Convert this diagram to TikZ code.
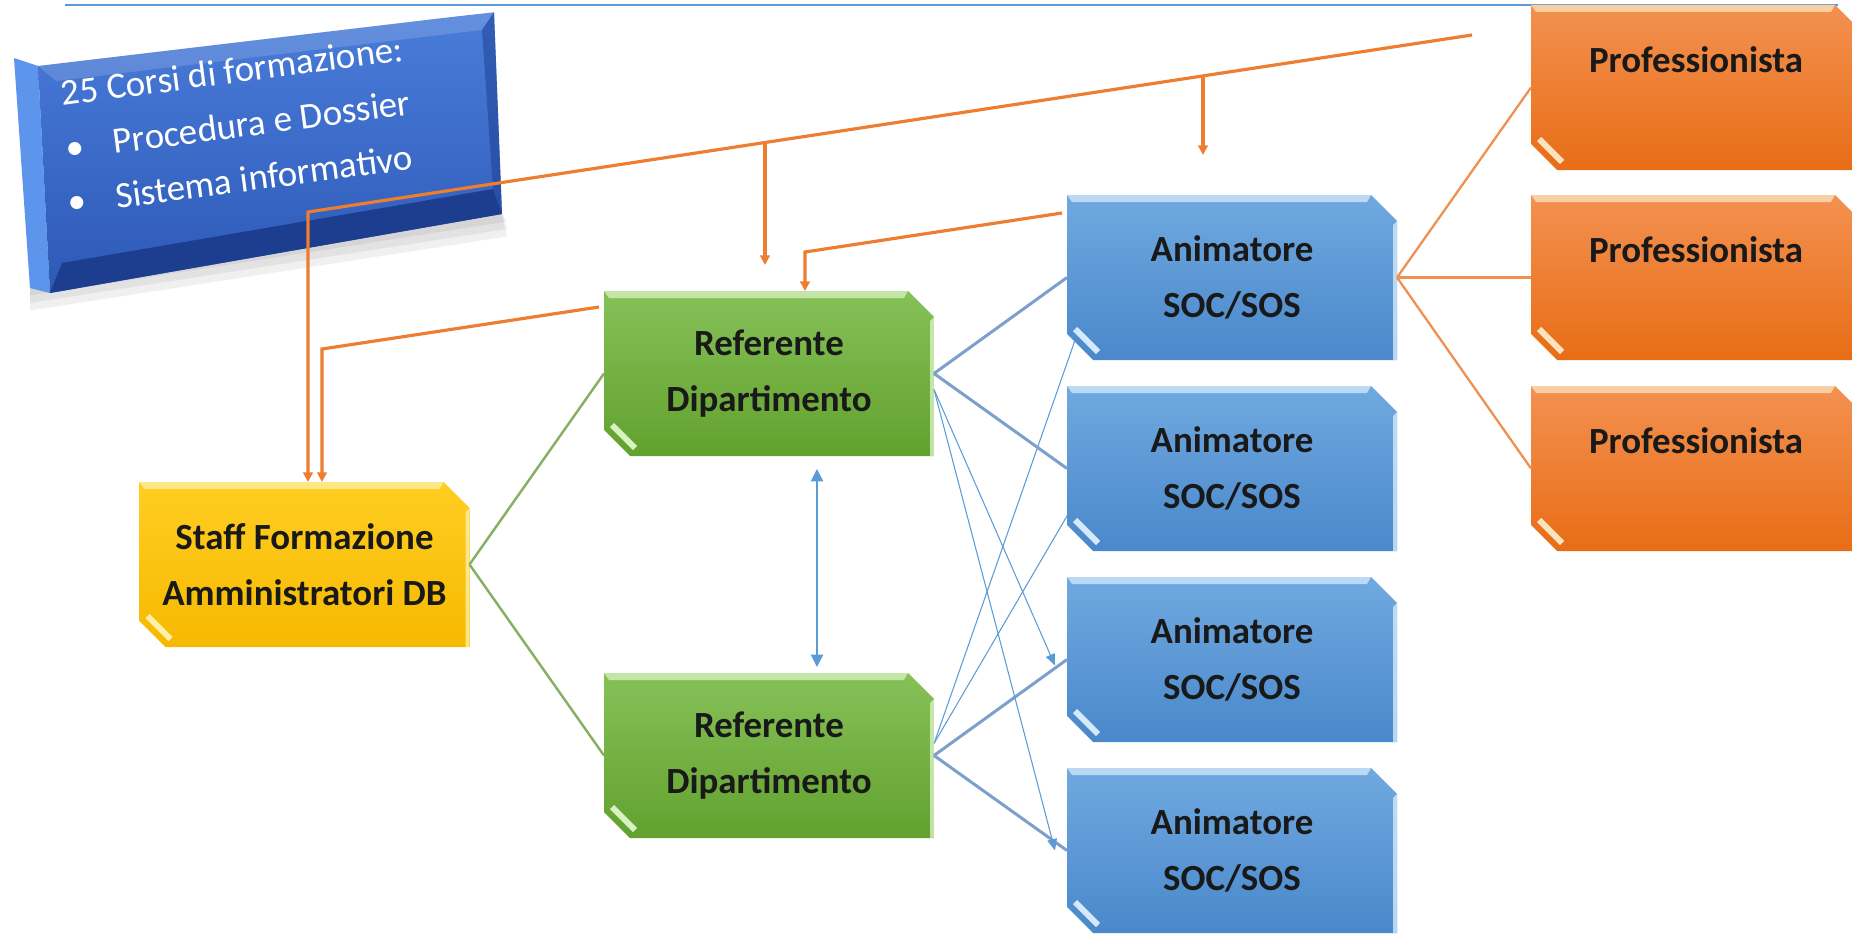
\documentclass[tikz,border=0pt]{standalone}
\usepackage{fontspec}
\setmainfont{Carlito}
\usetikzlibrary{calc, positioning, arrows.meta, backgrounds}

\definecolor{grtop}{HTML}{86C158}
\definecolor{grbot}{HTML}{62A12E}
\definecolor{grpale}{HTML}{D9F2C4}
\definecolor{bltop}{HTML}{70A9E0}
\definecolor{blbot}{HTML}{4A88CB}
\definecolor{blpale}{HTML}{D4EAFB}
\definecolor{ortop}{HTML}{F39150}
\definecolor{orbot}{HTML}{E86D16}
\definecolor{orpale}{HTML}{FCE3C0}
\definecolor{yetop}{HTML}{FFCE22}
\definecolor{yebot}{HTML}{F6B900}
\definecolor{yepale}{HTML}{FFF0A8}
\definecolor{lineorange}{HTML}{ED7D31}
\definecolor{lineblue}{HTML}{5B9BD5}
\definecolor{linesteel}{HTML}{7C9FCB}
\definecolor{linegreen}{HTML}{88AF62}
\definecolor{paneltop}{HTML}{4A7DDA}
\definecolor{panelbot}{HTML}{2D58B6}
\definecolor{panelside}{HTML}{5E95EC}
\definecolor{paneldark}{HTML}{1D3D8E}

\begin{document}
\begin{tikzpicture}[
  bev/.style n args={3}{minimum width=6.6cm, minimum height=3.3cm, inner sep=0pt, outer sep=0pt,
    align=center, text=black!90, font=\fontsize{21}{32}\selectfont\bfseries,
    path picture={
      \path (path picture bounding box.south west) coordinate (bsw)
            (path picture bounding box.north east) coordinate (bne)
            (path picture bounding box.north west) coordinate (bnw)
            (path picture bounding box.south east) coordinate (bse);
      \shade[top color=#1, bottom color=#2]
        (bnw) -- ([xshift=-0.52cm]bne) -- ([yshift=-0.52cm]bne) -- (bse)
        -- ([xshift=0.52cm]bsw) -- ([yshift=0.52cm]bsw) -- cycle;
      \fill[#3, opacity=0.75] (bnw) -- ([xshift=-0.52cm]bne) -- ([shift={(-0.6,-0.14)}]bne)
        -- ([shift={(0.1,-0.14)}]bnw) -- cycle;
      \fill[#3, opacity=0.8] ([yshift=-0.52cm]bne) -- (bse) -- ([xshift=-0.08cm]bse)
        -- ([shift={(-0.08,-0.6)}]bne) -- cycle;
      \draw[#3, line width=0.12cm] ([shift={(0.16,0.62)}]bsw) -- ([shift={(0.62,0.16)}]bsw);
    }},
  greenbox/.style={bev={grtop}{grbot}{grpale}},
  bluebox/.style={bev={bltop}{blbot}{blpale}},
  orangebox/.style={bev={ortop}{orbot}{orpale}},
  yellowbox/.style={bev={yetop}{yebot}{yepale}},
  feed/.style={draw=lineorange, line width=1.8pt, -{Triangle[width=5.5pt,length=5.5pt]}},
  fan/.style={draw=lineorange!85!white, line width=1.3pt},
  tie/.style={draw=linesteel, line width=1.7pt},
  twig/.style={draw=linegreen, line width=1.4pt},
  hint/.style={draw=lineblue, line width=0.6pt, -{Triangle[width=5.5pt,length=6.5pt]}},
  both/.style={draw=lineblue, line width=0.7pt, {Triangle[width=7pt,length=7pt]}-{Triangle[width=7pt,length=7pt]}}
]
\useasboundingbox (0,0) rectangle (37.04,-18.68);
\clip (0,0) rectangle (37.04,-18.68);

% top rule
\coordinate (t0) at (1.30,-0.10);
\coordinate (t1) at (36.76,-0.10);
\draw[lineblue, line width=0.6pt] (t0) -- (t1);

% tilted panel
\coordinate (stl) at (0.28,-1.16);
\coordinate (sbl) at (0.60,-5.76);
\coordinate (ptl) at (0.76,-1.32);
\coordinate (ptr) at (9.88,-0.24);
\coordinate (pbr) at (10.04,-4.28);
\coordinate (pbl) at (1.00,-5.86);
\foreach \s in {0.15,0.3,0.45}
  \fill[black, opacity=0.06] ([yshift=-\s cm]sbl) -- ([shift={(0.1,-\s)}]pbr) -- (pbr) -- (sbl) -- cycle;
\fill[panelside] (stl) -- (ptl) -- (pbl) -- (sbl) -- cycle;
\shade[top color=paneltop, bottom color=panelbot] (ptl) -- (ptr) -- (pbr) -- (pbl) -- cycle;
\fill[white, opacity=0.15] (ptl) -- (ptr) -- ($(ptr)+(-0.24,-0.36)$) -- ($(ptl)+(0.36,-0.3)$) -- cycle;
\fill[paneldark, opacity=0.5] (ptr) -- (pbr) -- ($(pbr)+(-0.18,0.5)$) -- ($(ptr)+(-0.24,-0.36)$) -- cycle;
\fill[paneldark] (pbl) -- (pbr) -- ($(pbr)+(-0.18,0.5)$) -- ($(pbl)+(0.24,0.6)$) -- cycle;
\draw[white, opacity=0.6, line width=0.6pt] (stl) -- (ptr);
\node[rotate=7.5, anchor=north west, align=left, inner sep=0pt, text=white,
  font=\fontsize{21}{31}\selectfont] (T) at (1.18,-1.60)
  {25 Corsi di formazione:\\\hspace*{-0.05cm}\makebox[0.96cm][l]{\textbullet}Procedura e Dossier\\\hspace*{-0.16cm}\makebox[0.98cm][l]{\textbullet}Sistema informativo};

% boxes
\node[yellowbox] (S) at (6.09,-11.29) {Staff Formazione\\Amministratori DB};
\node[greenbox] (G1) at (15.38,-7.47) {Referente\\Dipartimento};
\node[greenbox, below=4.34cm of G1] (G2) {Referente\\Dipartimento};
\node[bluebox] (A1) at (24.64,-5.55) {Animatore\\SOC/SOS};
\node[bluebox, below=0.52cm of A1] (A2) {Animatore\\SOC/SOS};
\node[bluebox, below=0.52cm of A2] (A3) {Animatore\\SOC/SOS};
\node[bluebox, below=0.52cm of A3] (A4) {Animatore\\SOC/SOS};
\node[orangebox, right=2.68cm of A1] (P2) {Professionista\\\mbox{}};
\node[orangebox, above=0.5cm of P2] (P1) {Professionista\\\mbox{}};
\node[orangebox, below=0.52cm of P2] (P3) {Professionista\\\mbox{}};

% links
\draw[twig] (S.east) -- (G1.west);
\draw[twig] (S.east) -- (G2.west);
\draw[tie] (G1.east) -- (A1.west);
\draw[tie] (G1.east) -- (A2.west);
\draw[tie] (G2.east) -- (A3.west);
\draw[tie] (G2.east) -- (A4.west);
\draw[fan] (A1.east) -- (P1.west);
\draw[fan] (A1.east) -- (P2.west);
\draw[fan] (A1.east) -- (P3.west);
\draw[hint] ([yshift=-0.32cm]G1.east) -- ([shift={(-0.24,-0.12)}]A3.west);
\draw[hint] ([yshift=-0.32cm]G1.east) -- ([xshift=-0.24cm]A4.west);
\begin{scope}[on background layer]
\draw[hint] ([yshift=0.24cm]G2.east) -- ([shift={(0.56,-0.11)}]A1.west);
\draw[hint] ([yshift=0.24cm]G2.east) -- ([shift={(0.52,-0.06)}]A2.west);
\end{scope}
\draw[both] ([shift={(0.96,-0.26)}]G1.south) -- ([shift={(0.96,0.12)}]G2.north);

% orange feeds
\coordinate (m0) at ($(P1.west)+(-1.18,1.05)$);
\coordinate (k1) at (6.16,-4.24);
\draw[feed] (m0) -- (k1) -- (k1 |- S.north);
\path (m0) -- (k1) coordinate[pos=0.6074] (b1) coordinate[pos=0.2311] (b2);
\draw[feed, shorten >=0.52cm] (b1) -- (b1 |- G1.north);
\draw[feed, shorten >=0.8cm] (b2) -- (b2 |- A1.north);
\coordinate (k2) at (16.10,-5.04);
\draw[feed] ([shift={(-0.1,-0.36)}]A1.north west) -- (k2) -- (k2 |- G1.north);
\coordinate (k3) at (6.44,-6.98);
\draw[feed] ([shift={(-0.1,-0.32)}]G1.north west) -- (k3) -- (k3 |- S.north);
\end{tikzpicture}
\end{document}
